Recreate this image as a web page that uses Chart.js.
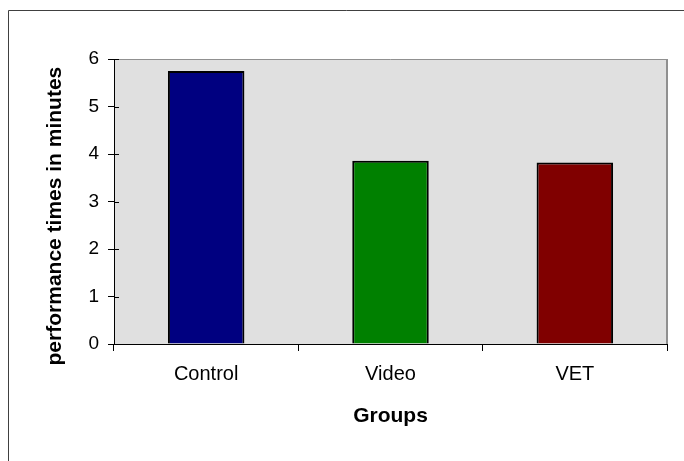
<!DOCTYPE html>
<html>
<head>
<meta charset="utf-8">
<style>
  html, body { margin: 0; padding: 0; background: #ffffff; }
  #wrap { width: 684px; height: 461px; position: relative; }
</style>
<script src="https://cdn.jsdelivr.net/npm/chart.js@4/dist/chart.umd.min.js"></script>
</head>
<body>
<div id="wrap"><canvas id="chart" width="684" height="461"></canvas></div>
<script>
// Mean performance time per group
const groups = ['Control', 'Video', 'VET'];
const performanceMinutes = [5.75, 3.86, 3.82];
const barColors = ['#000080', '#008000', '#800000'];
const yTickValues = [0, 1, 2, 3, 4, 5, 6];

const FONT = "'Liberation Sans', Arial, sans-serif";

// Grey plotting area, short inward y ticks, and the thin frame around the figure
const plotBackground = {
  id: 'plotBackground',
  beforeDraw(chart) {
    const { ctx, chartArea: a } = chart;
    ctx.save();
    ctx.fillStyle = '#e0e0e0';
    ctx.fillRect(a.left, a.top, a.right - a.left, a.bottom - a.top);
    ctx.strokeStyle = '#909090';
    ctx.lineWidth = 1;
    ctx.beginPath();
    ctx.moveTo(a.left, a.top + 0.5);
    ctx.lineTo(a.right, a.top + 0.5);
    ctx.stroke();
    ctx.lineWidth = 2;
    ctx.beginPath();
    ctx.moveTo(a.right, a.top);
    ctx.lineTo(a.right, a.bottom);
    ctx.stroke();
    // outer frame: top and left edges
    ctx.strokeStyle = '#404040';
    ctx.lineWidth = 1;
    ctx.beginPath();
    ctx.moveTo(8.5, chart.height);
    ctx.lineTo(8.5, 10.5);
    ctx.lineTo(chart.width, 10.5);
    ctx.stroke();
    ctx.restore();
  },
  afterDatasetsDraw(chart) {
    const { ctx, chartArea: a } = chart;
    const y = chart.scales.y;
    ctx.save();
    ctx.strokeStyle = '#000000';
    ctx.lineWidth = 1;
    ctx.beginPath();
    y.ticks.forEach(t => {
      const py = Math.round(y.getPixelForValue(t.value)) + 0.5;
      ctx.moveTo(a.left, py);
      ctx.lineTo(a.left + 5, py);
    });
    ctx.stroke();
    ctx.restore();
  }
};

new Chart(document.getElementById('chart'), {
  type: 'bar',
  data: {
    labels: groups,
    datasets: [{
      data: performanceMinutes,
      backgroundColor: barColors,
      borderColor: '#000000',
      borderWidth: 2,
      barPercentage: 0.415,
      categoryPercentage: 1.0
    }]
  },
  options: {
    responsive: false,
    animation: false,
    devicePixelRatio: 1,
    layout: { padding: { top: 59, right: 17, left: 0, bottom: 0 } },
    plugins: {
      legend: { display: false },
      tooltip: { enabled: false }
    },
    scales: {
      x: {
        afterFit(scale) { scale.height = 117; },
        grid: {
          offset: true,
          drawOnChartArea: false,
          drawTicks: true,
          tickLength: 7,
          color: '#000000'
        },
        border: { display: true, color: '#000000', width: 1 },
        ticks: {
          color: '#000000',
          padding: 11,
          font: { family: FONT, size: 20 }
        },
        title: {
          display: true,
          text: 'Groups',
          color: '#000000',
          padding: { top: 0, bottom: 32 },
          font: { family: FONT, size: 21, weight: 'bold' }
        }
      },
      y: {
        min: 0,
        max: 6,
        afterFit(scale) { scale.width = 114; },
        afterBuildTicks(scale) {
          scale.ticks = yTickValues.map(v => ({ value: v }));
        },
        grid: {
          drawOnChartArea: false,
          drawTicks: true,
          tickLength: 6,
          color: '#000000'
        },
        border: { display: true, color: '#000000', width: 1 },
        ticks: {
          color: '#000000',
          padding: 9,
          font: { family: FONT, size: 19 }
        },
        title: {
          display: true,
          text: 'performance times in minutes\u00a0\u00a0\u00a0\u00a0\u00a0',
          color: '#000000',
          padding: { top: 43, bottom: 0 },
          font: { family: FONT, size: 21, weight: 'bold' }
        }
      }
    }
  },
  plugins: [plotBackground]
});
</script>
</body>
</html>
